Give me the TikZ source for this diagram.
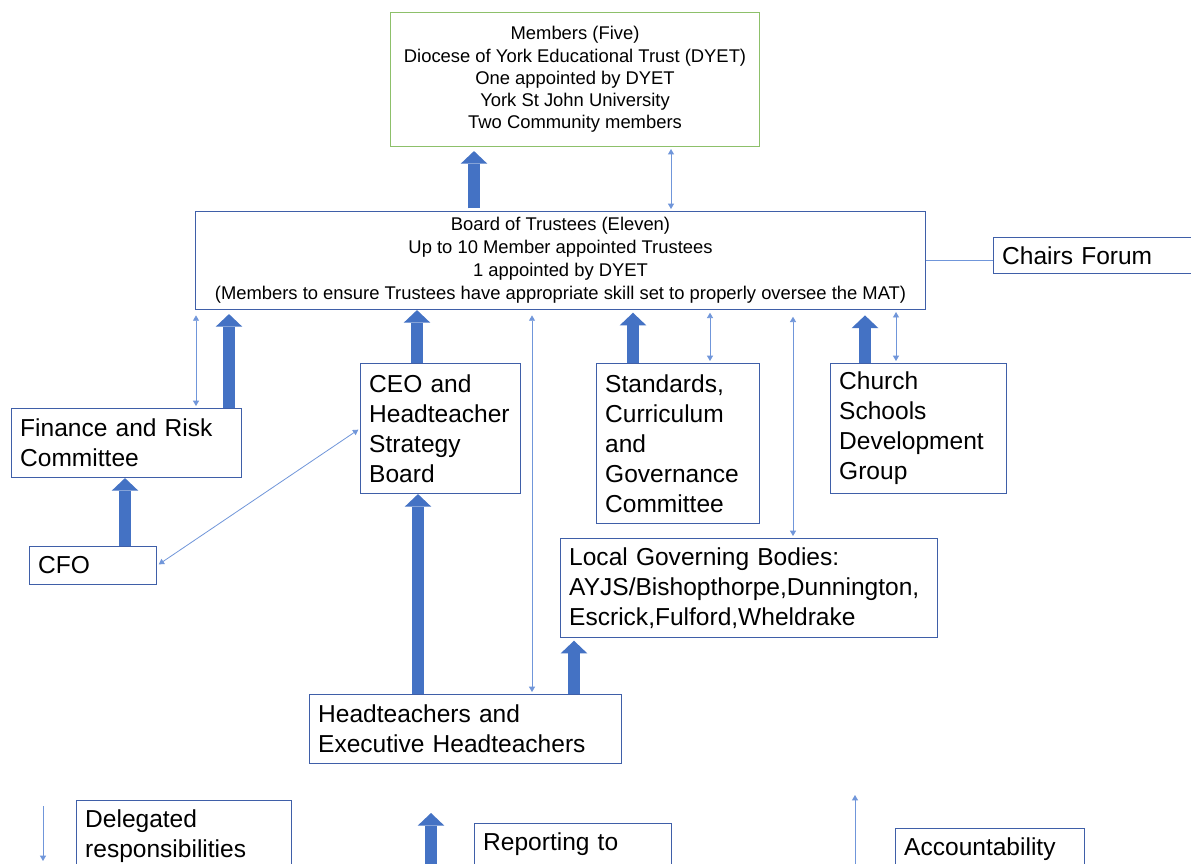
\documentclass[tikz,border=0pt]{standalone}
\usepackage{fontspec}
\setmainfont{Liberation Sans}
\usetikzlibrary{arrows.meta}
\definecolor{boxblue}{HTML}{3F5FA8}
\definecolor{membergreen}{HTML}{8DC06A}
\definecolor{reportblue}{HTML}{4472C4}
\definecolor{linkblue}{HTML}{7096DA}
\newcommand*{\bigtext}{\fontsize{18.4pt}{22.5pt}\selectfont\hyphenpenalty=10000}
\newcommand*{\smalltext}{\fontsize{14pt}{16.8pt}\selectfont}

\begin{document}
\begin{tikzpicture}[x=0.75pt,y=-0.75pt,
  unit/.style   = {draw=boxblue, line width=0.8pt, rectangle, anchor=north west,
                   inner xsep=6.5pt, inner ysep=0pt, align=left, font=\bigtext},
  report/.style = {draw=reportblue, line width=9pt,
                   -{Triangle[length=9.5pt,width=20pt,line width=0pt]}},
  link/.style   = {draw=linkblue, line width=0.6pt, shorten <=1.5pt, shorten >=1.5pt,
                   {Triangle[length=4pt,width=4.5pt]}-{Triangle[length=4pt,width=4.5pt]}},
  oneway/.style = {draw=linkblue, line width=0.6pt, -{Triangle[length=4pt,width=4.5pt]}},
]
  \clip (0,0) rectangle (1191,863);
  \fill[white] (0,0) rectangle (1191,863);

  % top of the trust
  \node[unit, draw=membergreen, align=center, font=\fontsize{13.8pt}{16.7pt}\selectfont,
        minimum width=276.75pt, minimum height=100.5pt]
    (members) at (390,12) {Members (Five)\\Diocese of York Educational Trust (DYET)\\
      One appointed by DYET\\York St John University\\Two Community members};
  \node[unit, align=center, font=\fontsize{13.8pt}{17.25pt}\selectfont,
        minimum width=547.5pt, minimum height=73.5pt]
    (board) at (195,211) {Board of Trustees (Eleven)\\Up to 10 Member appointed Trustees\\
      1 appointed by DYET\\(Members to ensure Trustees have appropriate skill set to properly oversee the MAT)};
  \node[unit, minimum width=165pt, minimum height=27pt, text width=152pt]
    (chairs) at (993,237) {Chairs Forum};

  % committees and groups
  \node[unit, minimum width=172.5pt, minimum height=51.75pt, text width=159.5pt]
    (finance) at (11,408) {Finance and Risk\\Committee};
  \node[unit, minimum width=95.25pt, minimum height=28.5pt, text width=82.25pt]
    (cfo) at (29,546) {CFO};
  \node[unit, minimum width=120pt, minimum height=97.5pt, text width=107pt]
    (ceo) at (360,363) {CEO and\\Headteacher\\Strategy\\Board};
  \node[unit, minimum width=122.25pt, minimum height=120pt, text width=109.25pt]
    (standards) at (596,363) {Standards,\\Curriculum\\and\\Governance\\Committee};
  \node[unit, minimum width=132pt, minimum height=97.5pt, text width=119pt]
    (church) at (830,363) {Church\\Schools\\Development\\Group};
  \node[unit, minimum width=282.75pt, minimum height=74.25pt, text width=269.75pt]
    (lgb) at (560,538) {Local Governing Bodies:\\AYJS/Bishopthorpe,Dunnington,\\Escrick,Fulford,Wheldrake};
  \node[unit, minimum width=234pt, minimum height=51.75pt, text width=221pt]
    (heads) at (309,694) {Headteachers and\\Executive Headteachers};

  % key
  \node[unit, minimum width=161.25pt, minimum height=53.25pt, text width=148.25pt]
    (keydelegated) at (76,800) {Delegated\\responsibilities};
  \node[unit, minimum width=147.75pt, minimum height=31.5pt, text width=134.75pt]
    (keyreporting) at (474,823) {Reporting to};
  \node[unit, minimum width=141.75pt, minimum height=31.5pt, text width=128.75pt]
    (keyaccount) at (895,828) {Accountability};
  \coordinate (delegatedtop) at (43,806);
  \coordinate (delegatedend) at (43,861);
  \coordinate (reportingfoot) at (431,875);
  \coordinate (reportingtip) at (431,813);
  \coordinate (accountfoot) at (855,875);
  \coordinate (accounttip) at (855,795);

  % reporting lines
  \draw[report, shorten <=2pt, shorten >=3pt] (board.north -| 474,0) -- (members.south -| 474,0);
  \draw[report, shorten >=3pt] (finance.north -| 229,0) -- (board.south -| 229,0);
  \draw[report] (ceo.north -| 417,0) -- (board.south -| 417,0);
  \draw[report, shorten >=2pt] (standards.north -| 633,0) -- (board.south -| 633,0);
  \draw[report, shorten >=4pt] (church.north -| 865,0) -- (board.south -| 865,0);
  \draw[report] (cfo.north -| 125,0) -- (finance.south -| 125,0);
  \draw[report] (heads.north -| 418,0) -- (ceo.south -| 418,0);
  \draw[report, shorten >=2pt] (heads.north -| 574,0) -- (lgb.south -| 574,0);

  % delegation and accountability
  \draw[link] (members.south -| 671,0) -- (board.north -| 671,0);
  \draw[link, shorten <=4pt] (board.south -| 196,0) -- (finance.north -| 196,0);
  \draw[link, shorten <=4pt] (board.south -| 532,0) -- (heads.north -| 532,0);
  \draw[link, shorten <=2pt] (board.south -| 710,0) -- (standards.north -| 710,0);
  \draw[link, shorten <=5pt] (board.south -| 793,0) -- (lgb.north -| 793,0);
  \draw[link] (board.south -| 896,0) -- (church.north -| 896,0);
  \draw[link] (cfo.east) -- (ceo.west);
  \draw[linkblue, line width=0.6pt] (board.east) -- (chairs.west |- board.east);

  % key arrows
  \draw[oneway] (delegatedtop) -- (delegatedend);
  \draw[report] (reportingfoot) -- (reportingtip);
  \draw[oneway] (accountfoot) -- (accounttip);
\end{tikzpicture}
\end{document}
